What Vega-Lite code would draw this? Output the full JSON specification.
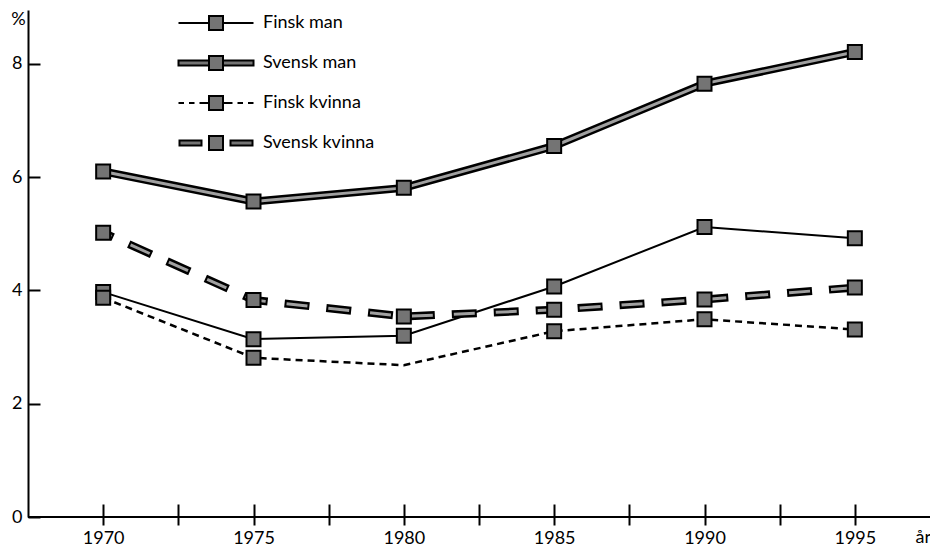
{
  "$schema": "https://vega.github.io/schema/vega-lite/v6.json",
  "width": 902,
  "height": 507,
  "autosize": {"type": "none"},
  "padding": {"left": 28, "top": 10, "right": 0, "bottom": 32},
  "background": "white",
  "config": {
    "view": {"stroke": null},
    "font": "Lato",
    "axis": {"labelFont": "Lato", "labelFontSize": 18, "labelColor": "black", "domainColor": "black", "tickColor": "black", "grid": false, "titleFont": "Lato", "titleColor": "black"}
  },
  "data": {
    "values": [
      {"series": "Finsk man", "year": 1970, "value": 3.97},
      {"series": "Finsk man", "year": 1975, "value": 3.14},
      {"series": "Finsk man", "year": 1980, "value": 3.2},
      {"series": "Finsk man", "year": 1985, "value": 4.07},
      {"series": "Finsk man", "year": 1990, "value": 5.12},
      {"series": "Finsk man", "year": 1995, "value": 4.92},
      {"series": "Svensk man", "year": 1970, "value": 6.1},
      {"series": "Svensk man", "year": 1975, "value": 5.57},
      {"series": "Svensk man", "year": 1980, "value": 5.81},
      {"series": "Svensk man", "year": 1985, "value": 6.55},
      {"series": "Svensk man", "year": 1990, "value": 7.65},
      {"series": "Svensk man", "year": 1995, "value": 8.21},
      {"series": "Finsk kvinna", "year": 1970, "value": 3.87},
      {"series": "Finsk kvinna", "year": 1975, "value": 2.81},
      {"series": "Finsk kvinna", "year": 1980, "value": 2.68},
      {"series": "Finsk kvinna", "year": 1985, "value": 3.28},
      {"series": "Finsk kvinna", "year": 1990, "value": 3.49},
      {"series": "Finsk kvinna", "year": 1995, "value": 3.31},
      {"series": "Svensk kvinna", "year": 1970, "value": 5.02},
      {"series": "Svensk kvinna", "year": 1975, "value": 3.83},
      {"series": "Svensk kvinna", "year": 1980, "value": 3.54},
      {"series": "Svensk kvinna", "year": 1985, "value": 3.66},
      {"series": "Svensk kvinna", "year": 1990, "value": 3.84},
      {"series": "Svensk kvinna", "year": 1995, "value": 4.05}
    ]
  },
  "layer": [
    {
      "mark": {"type": "rule", "color": "black", "strokeWidth": 2},
      "encoding": {
        "y": {"datum": 0, "type": "quantitative", "scale": {"domain": [0, 8.95], "nice": false, "zero": false},
          "axis": {"values": [0, 2, 4, 6, 8], "format": "d", "tickSize": -12, "tickWidth": 2, "domainWidth": 2, "labelPadding": 18,
            "title": "%", "titleAngle": 0, "titleX": -10, "titleY": 9, "titleFontSize": 18, "titleFontWeight": "normal", "titleAlign": "center", "titleBaseline": "middle"}}
      }
    },
    {
      "transform": [{"filter": "datum.series === 'Finsk man'"}],
      "mark": {"type": "line", "color": "black", "strokeWidth": 2},
      "encoding": {
        "x": {"field": "year", "type": "quantitative", "scale": {"domain": [1967.5, 1997.5], "nice": false, "zero": false},
          "axis": {"values": [1970, 1972.5, 1975, 1977.5, 1980, 1982.5, 1985, 1987.5, 1990, 1992.5, 1995], "format": "d",
            "labelExpr": "datum.value % 5 === 0 ? datum.label : ''", "domain": false, "offset": -13, "tickSize": 21, "tickWidth": 2, "labelPadding": 4,
            "title": "år", "titleFontSize": 18, "titleFontWeight": "normal", "titleAnchor": "start", "titleAlign": "left", "titleX": 887, "titleY": 33, "titleBaseline": "middle"}},
        "y": {"field": "value", "type": "quantitative"}
      }
    },
    {
      "transform": [{"filter": "datum.series === 'Finsk kvinna'"}],
      "mark": {"type": "line", "color": "black", "strokeWidth": 2.5, "strokeDash": [7, 5]},
      "encoding": {"x": {"field": "year", "type": "quantitative"}, "y": {"field": "value", "type": "quantitative"}}
    },
    {
      "transform": [{"filter": "datum.series === 'Svensk kvinna'"}],
      "mark": {"type": "line", "color": "black", "strokeWidth": 8, "strokeDash": [25, 17], "strokeDashOffset": 14, "strokeCap": "butt"},
      "encoding": {"x": {"field": "year", "type": "quantitative"}, "y": {"field": "value", "type": "quantitative"}}
    },
    {
      "transform": [{"filter": "datum.series === 'Svensk kvinna'"}],
      "mark": {"type": "line", "color": "#a0a0a0", "strokeWidth": 3, "strokeDash": [21, 21], "strokeDashOffset": 12, "strokeCap": "butt"},
      "encoding": {"x": {"field": "year", "type": "quantitative"}, "y": {"field": "value", "type": "quantitative"}}
    },
    {
      "transform": [{"filter": "datum.series === 'Svensk man'"}],
      "mark": {"type": "line", "color": "black", "strokeWidth": 8},
      "encoding": {"x": {"field": "year", "type": "quantitative"}, "y": {"field": "value", "type": "quantitative"}}
    },
    {
      "transform": [{"filter": "datum.series === 'Svensk man'"}],
      "mark": {"type": "line", "color": "#a0a0a0", "strokeWidth": 3},
      "encoding": {"x": {"field": "year", "type": "quantitative"}, "y": {"field": "value", "type": "quantitative"}}
    },
    {
      "transform": [{"filter": "!(datum.series === 'Finsk kvinna' && datum.year === 1980)"}],
      "mark": {"type": "square", "filled": true, "fill": "#747474", "stroke": "black", "strokeWidth": 2, "size": 196, "opacity": 1},
      "encoding": {"x": {"field": "year", "type": "quantitative"}, "y": {"field": "value", "type": "quantitative"}}
    },
    {
      "transform": [{"filter": "false"}],
      "mark": {"type": "point", "filled": true, "fill": "#747474", "stroke": "black", "strokeWidth": 2, "opacity": 1},
      "encoding": {
        "x": {"field": "year", "type": "quantitative"},
        "y": {"field": "value", "type": "quantitative"},
        "shape": {"field": "series", "type": "nominal",
          "scale": {"domain": ["Finsk man", "Svensk man", "Finsk kvinna", "Svensk kvinna"],
            "range": [
              "M-3.75,0H-0.7M0.7,0H3.75M-0.7,-0.7H0.7V0.7H-0.7Z",
              "M-3.75,-0.25H-0.7V0.25H-3.75ZM0.7,-0.25H3.75V0.25H0.7ZM-0.7,-0.7H0.7V0.7H-0.7Z",
              "M-3.75,0H-3.2M-2.7,0H-2.15M-1.65,0H-0.7M0.7,0H1.65M2.15,0H2.7M3.2,0H3.75M-0.7,-0.7H0.7V0.7H-0.7Z",
              "M-3.65,-0.25H-1.45V0.25H-3.65ZM1.45,-0.25H3.65V0.25H1.45ZM-0.7,-0.7H0.7V0.7H-0.7Z"
            ]},
          "legend": {"orient": "none", "legendX": 177, "legendY": 2, "title": null, "symbolSize": 400, "labelFont": "Lato", "labelFontSize": 18, "labelColor": "black", "labelOffset": 36, "rowPadding": 18, "padding": 0,
            "symbolStrokeWidth": 2, "symbolOpacity": 1,
            "encoding": {"symbols": {"update": {"stroke": {"value": "black"}, "fill": {"value": "#747474"}, "strokeWidth": {"value": 2}, "opacity": {"value": 1}}}}}}
      }
    }
  ]
}
